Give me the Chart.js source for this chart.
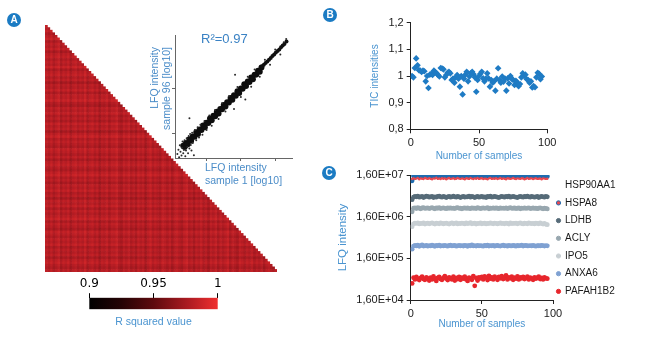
<!DOCTYPE html>
<html>
<head>
<meta charset="utf-8">
<title>Sample reproducibility</title>
<script src="https://cdn.jsdelivr.net/npm/chart.js@4.4.1/dist/chart.umd.min.js"></script>
<style>
  html, body { margin: 0; padding: 0; background: #fff; }
  #page { position: relative; width: 646px; height: 337px; overflow: hidden; font-family: 'Liberation Sans', Arial, sans-serif; }
  #page canvas { position: absolute; left: 0; top: 0; }
  .tag { position: absolute; width: 14px; height: 14px; border-radius: 50%; background: #1b7bc3; color: #fff;
         font: bold 10px 'Liberation Sans', Arial, sans-serif; text-align: center; line-height: 14px; }
  .note { position: absolute; color: #4a8cc8; white-space: nowrap; font-size: 10.5px; }
</style>
</head>
<body>
<div id="page">
  <canvas id="heat" width="646" height="337"></canvas>
  <canvas id="inset" width="646" height="337"></canvas>
  <canvas id="cbar" width="646" height="337"></canvas>
  <canvas id="tic" width="646" height="337"></canvas>
  <canvas id="lfq" width="646" height="337"></canvas>
  <div class="tag" style="left:7px;top:13px">A</div>
  <div class="tag" style="left:323px;top:8px">B</div>
  <div class="tag" style="left:322px;top:166px">C</div>
  <div class="note" style="left:201px;top:31px;font-size:13px;line-height:15px;color:#3a82c4">R²=0.97</div>
  <div class="note" style="left:205px;top:160.5px;line-height:13px">LFQ intensity<br>sample 1 [log10]</div>
  <div class="note" style="left:148px;top:130px;width:83px;line-height:12px;text-align:right;transform-origin:0 0;transform:rotate(-90deg)">LFQ intensity<br>sample 96 [log10]</div>
</div>
<script>
// ---- data ----------------------------------------------------------------

const SAMPLE_NO = [
   1,  2,  3,  4,  5,  6,  7,  8,  9, 10, 11, 12,
  13, 14, 15, 16, 17, 18, 19, 20, 21, 22, 23, 24,
  25, 26, 27, 28, 29, 30, 31, 32, 33, 34, 35, 36,
  37, 38, 39, 40, 41, 42, 43, 44, 45, 46, 47, 48,
  49, 50, 51, 52, 53, 54, 55, 56, 57, 58, 59, 60,
  61, 62, 63, 64, 65, 66, 67, 68, 69, 70, 71, 72,
  73, 74, 75, 76, 77, 78, 79, 80, 81, 82, 83, 84,
  85, 86, 87, 88, 89, 90, 91, 92, 93, 94, 95, 96
];

// panel A: R squared level per sample (heatmap texture), colour bar range
const R2_SAMPLE = [
  0.984, 0.978, 0.987, 0.974, 0.982, 0.990, 0.972, 0.984, 0.978, 0.987, 0.970, 0.982,
  0.987, 0.976, 0.984, 0.978, 0.990, 0.972, 0.982, 0.987, 0.976, 0.984, 0.968, 0.982,
  0.978, 0.987, 0.972, 0.984, 0.982, 0.990, 0.976, 0.970, 0.984, 0.978, 0.987, 0.974,
  0.982, 0.972, 0.987, 0.978, 0.984, 0.968, 0.982, 0.990, 0.976, 0.984, 0.978, 0.972,
  0.987, 0.982, 0.974, 0.984, 0.970, 0.982, 0.987, 0.978, 0.972, 0.984, 0.990, 0.976,
  0.982, 0.970, 0.984, 0.978, 0.987, 0.974, 0.982, 0.968, 0.984, 0.978, 0.987, 0.972,
  0.984, 0.976, 0.982, 0.990, 0.972, 0.984, 0.978, 0.970, 0.987, 0.982, 0.974, 0.984,
  0.978, 0.987, 0.972, 0.982, 0.976, 0.984, 0.970, 0.982, 0.987, 0.978, 0.972, 0.982
];
const R2_MIN = 0.9;
const R2_MAX = 1;
const CBAR_TICKS = [0.9, 0.95, 1];

// panel A inset: sample 1 vs sample 96, log10 LFQ intensity
const INSET_CORE = [
  [5.32, 5.44], [5.36, 5.40], [5.40, 5.52], [5.45, 5.48], [5.50, 5.63], [5.55, 5.58],
  [5.60, 5.71], [5.65, 5.70], [5.70, 5.83], [5.75, 5.78], [5.80, 5.91], [5.85, 5.90],
  [5.90, 6.03], [5.95, 5.98], [6.00, 6.11], [6.05, 6.10], [6.10, 6.23], [6.15, 6.18],
  [6.20, 6.31], [6.25, 6.30], [6.30, 6.43], [6.35, 6.38], [6.40, 6.51], [6.45, 6.50],
  [6.50, 6.63], [6.55, 6.58], [6.60, 6.71], [6.65, 6.70], [6.70, 6.83], [6.75, 6.78],
  [6.80, 6.91], [6.85, 6.90], [6.90, 7.03], [6.95, 6.98], [7.00, 7.11], [7.05, 7.10],
  [7.10, 7.23], [7.15, 7.18], [7.20, 7.31], [7.25, 7.30], [7.30, 7.43], [7.35, 7.38],
  [7.40, 7.51], [7.45, 7.52], [7.50, 7.63], [7.55, 7.60], [7.60, 7.72]
];
const INSET_UPPER = [
  [7.62, 7.76], [7.67, 7.80], [7.72, 7.85], [7.77, 7.90], [7.82, 7.95], [7.87, 8.00], [7.92, 8.06],
  [7.97, 8.10], [8.02, 8.16], [8.07, 8.20], [8.12, 8.25], [8.17, 8.31], [8.22, 8.36], [8.27, 8.41],
  [8.33, 8.48]
];
const INSET_SPREAD = [
  [5.15, 5.20], [5.18, 5.32], [5.20, 5.10], [5.22, 5.45], [5.24, 5.26], [5.27, 5.15], [5.28, 5.38],
  [5.30, 5.56], [5.32, 5.22], [5.34, 5.31], [5.36, 5.60], [5.38, 5.13], [5.40, 5.30], [5.42, 5.66],
  [5.44, 5.40], [5.46, 5.22], [5.48, 5.72], [5.50, 5.36], [5.52, 5.78], [5.54, 5.46], [5.56, 5.30],
  [5.58, 5.82], [5.60, 5.52], [5.63, 5.16], [5.50, 6.24], [5.66, 5.90], [5.70, 5.60], [5.74, 5.98],
  [5.78, 5.68], [5.82, 6.05], [5.88, 5.76], [5.94, 6.16], [6.00, 5.90], [6.08, 6.32], [6.15, 6.02],
  [6.25, 6.48], [6.35, 6.22], [6.45, 6.68], [6.55, 6.44], [6.65, 6.88], [6.80, 6.51], [6.83, 7.51],
  [6.90, 7.15], [7.00, 6.86], [7.13, 6.79], [7.20, 7.45], [7.30, 7.16], [7.40, 7.66], [7.55, 7.45],
  [7.70, 7.95], [7.85, 7.80], [8.00, 8.25], [8.15, 8.10], [8.25, 8.46], [8.32, 8.55]
];
const INSET_X_TICKS = [6, 7, 8];
const INSET_Y_TICKS = [5.8, 7.1];

// panel B: TIC intensities per sample
const TIC = [
  1.000, 0.995, 1.030, 1.066, 1.040, 1.022, 1.020, 1.015, 1.020, 1.018, 0.980, 1.000,
  0.955, 1.005, 1.008, 1.004, 1.020, 1.015, 1.010, 1.004, 0.998, 1.030, 1.028, 1.025,
  0.995, 1.004, 1.012, 1.016, 1.010, 0.985, 0.990, 0.975, 0.995, 1.004, 0.990, 0.960,
  1.000, 0.931, 0.990, 1.005, 1.016, 0.980, 0.998, 1.010, 1.016, 1.007, 0.995, 0.941,
  0.985, 1.000, 1.008, 1.016, 0.991, 0.980, 0.990, 1.010, 0.991, 0.960, 0.985, 0.975,
  0.980, 0.945, 0.990, 1.029, 0.985, 0.975, 0.998, 0.979, 0.990, 0.945, 0.991, 0.972,
  1.000, 0.990, 0.985, 0.966, 0.982, 0.975, 0.962, 0.970, 0.995, 1.010, 1.000, 1.005,
  0.988, 0.985, 0.975, 0.980, 0.957, 0.962, 0.958, 0.995, 1.012, 1.008, 0.988, 0.998
];
const TIC_TICKS = [0.8, 0.9, 1, 1.1, 1.2];
const SAMPLE_TICKS = [0, 50, 100];

// panel C: LFQ intensity per protein, in millions
const LFQ_UNIT = 1e6;
const PROTEINS = ['HSP90AA1', 'HSPA8', 'LDHB', 'ACLY', 'IPO5', 'ANXA6', 'PAFAH1B2'];
const HSP90AA1 = [
  11.6, 15.2, 14.6, 15.5, 15.0, 14.4, 15.8, 15.1, 14.7, 15.3, 16.0, 14.9,
  15.2, 14.5, 15.4, 15.7, 14.8, 15.0, 15.3, 14.6, 15.1, 15.6, 14.9, 15.2,
  14.4, 15.0, 15.5, 15.1, 14.7, 15.3, 15.9, 15.0, 14.6, 15.2, 15.4, 14.8,
  15.1, 15.6, 14.9, 15.3, 14.5, 15.0, 15.7, 15.2, 14.8, 15.1, 15.4, 14.7,
  15.0, 15.5, 15.2, 14.6, 15.3, 15.0, 14.9, 15.6, 15.1, 14.7, 15.2, 15.4,
  14.8, 15.0, 15.5, 15.1, 14.6, 15.3, 15.0, 14.9, 15.7, 15.2, 14.8, 15.1,
  15.4, 14.6, 15.0, 15.3, 15.6, 14.9, 15.2, 14.7, 15.0, 15.5, 15.1, 14.8,
  15.3, 15.0, 14.6, 15.2, 15.4, 14.9, 15.1, 15.6, 14.7, 15.0, 15.3, 14.8
];
const HSPA8 = [
  12.8, 13.4, 12.9, 13.1, 13.6, 12.7, 13.3, 13.0, 12.8, 13.5, 13.2, 12.9,
  13.4, 13.0, 12.6, 13.3, 13.1, 13.7, 12.9, 13.2, 12.8, 13.4, 13.0, 13.3,
  12.7, 13.2, 13.5, 12.9, 13.1, 13.4, 12.8, 13.0, 13.6, 13.1, 12.9, 13.3,
  13.0, 12.7, 13.4, 13.2, 12.9, 13.5, 13.1, 12.8, 13.3, 13.0, 13.6, 12.9,
  13.2, 13.4, 12.8, 13.1, 13.0, 12.7, 13.3, 13.5, 12.9, 13.2, 13.0, 13.4,
  12.8, 13.1, 13.6, 12.9, 13.3, 13.0, 12.7, 13.4, 13.2, 12.9, 13.1, 13.5,
  13.0, 12.8, 13.3, 13.1, 12.9, 13.4, 13.2, 12.7, 13.0, 13.5, 12.9, 13.2,
  13.3, 12.8, 13.1, 13.4, 12.9, 13.0, 13.2, 12.7, 13.3, 13.1, 12.9, 13.0
];
const LDHB = [
  4.1, 4.7, 4.9, 4.8, 5.0, 4.7, 4.8, 4.9, 4.6, 4.8, 5.0, 4.9,
  4.7, 4.8, 4.9, 4.6, 4.8, 4.7, 4.9, 5.0, 4.8, 4.7, 4.9, 4.8,
  4.6, 4.8, 4.9, 4.7, 4.8, 5.0, 4.8, 4.7, 4.9, 4.8, 4.6, 4.8,
  4.9, 4.7, 4.8, 4.8, 5.0, 4.7, 4.9, 4.8, 4.6, 4.8, 4.9, 4.7,
  4.8, 4.9, 4.7, 4.8, 4.6, 4.9, 4.8, 5.0, 4.7, 4.8, 4.9, 4.8,
  4.7, 4.6, 4.8, 4.9, 4.8, 4.7, 4.9, 4.8, 5.0, 4.7, 4.8, 4.9,
  4.8, 4.7, 4.6, 4.8, 4.9, 4.8, 4.7, 4.9, 4.8, 5.0, 4.8, 4.7,
  4.9, 4.8, 4.7, 4.8, 4.9, 4.6, 4.8, 4.9, 4.8, 4.7, 4.9, 4.8
];
const ACLY = [
  2.10, 2.55, 2.60, 2.50, 2.62, 2.55, 2.48, 2.58, 2.65, 2.52, 2.56, 2.60,
  2.50, 2.57, 2.62, 2.53, 2.48, 2.59, 2.55, 2.63, 2.51, 2.56, 2.60, 2.54,
  2.49, 2.58, 2.55, 2.61, 2.52, 2.57, 2.50, 2.59, 2.64, 2.53, 2.55, 2.48,
  2.56, 2.60, 2.52, 2.58, 2.54, 2.49, 2.61, 2.55, 2.57, 2.51, 2.63, 2.56,
  2.50, 2.55, 2.59, 2.53, 2.57, 2.62, 2.48, 2.56, 2.54, 2.60, 2.52, 2.58,
  2.55, 2.49, 2.61, 2.54, 2.57, 2.52, 2.59, 2.50, 2.56, 2.63, 2.53, 2.55,
  2.58, 2.51, 2.55, 2.60, 2.48, 2.56, 2.54, 2.59, 2.52, 2.57, 2.61, 2.50,
  2.54, 2.58, 2.52, 2.56, 2.49, 2.55, 2.60, 2.53, 2.47, 2.55, 2.51, 2.45
];
const IPO5 = [
  0.92, 1.08, 1.12, 1.10, 1.14, 1.07, 1.11, 1.09, 1.13, 1.06, 1.10, 1.12,
  1.08, 1.11, 1.14, 1.09, 1.06, 1.12, 1.10, 1.08, 1.13, 1.11, 1.07, 1.10,
  1.12, 1.09, 1.06, 1.11, 1.14, 1.08, 1.10, 1.13, 1.07, 1.11, 1.09, 1.12,
  1.10, 1.07, 1.13, 1.09, 1.11, 1.15, 1.08, 1.10, 1.12, 1.06, 1.11, 1.09,
  1.13, 1.08, 1.10, 1.12, 1.07, 1.11, 1.09, 1.14, 1.10, 1.08, 1.12, 1.11,
  1.07, 1.10, 1.13, 1.09, 1.11, 1.08, 1.12, 1.10, 1.06, 1.13, 1.09, 1.11,
  1.10, 1.12, 1.08, 1.11, 1.14, 1.09, 1.07, 1.12, 1.10, 1.08, 1.13, 1.10,
  1.09, 1.11, 1.07, 1.12, 1.10, 1.08, 1.13, 1.09, 1.06, 1.10, 1.05, 1.03
];
const ANXA6 = [
  0.265, 0.315, 0.325, 0.318, 0.330, 0.312, 0.322, 0.335, 0.316, 0.320, 0.328, 0.314,
  0.323, 0.317, 0.330, 0.321, 0.312, 0.326, 0.319, 0.333, 0.315, 0.322, 0.318, 0.327,
  0.320, 0.313, 0.325, 0.331, 0.317, 0.322, 0.328, 0.314, 0.320, 0.326, 0.318, 0.323,
  0.316, 0.329, 0.321, 0.312, 0.325, 0.319, 0.334, 0.317, 0.322, 0.315, 0.327, 0.320,
  0.324, 0.318, 0.313, 0.326, 0.321, 0.330, 0.316, 0.323, 0.319, 0.328, 0.314, 0.322,
  0.327, 0.320, 0.315, 0.323, 0.331, 0.318, 0.322, 0.313, 0.326, 0.320, 0.317, 0.329,
  0.321, 0.314, 0.325, 0.319, 0.323, 0.332, 0.316, 0.322, 0.327, 0.318, 0.320, 0.324,
  0.317, 0.326, 0.320, 0.313, 0.324, 0.321, 0.318, 0.328, 0.322, 0.315, 0.323, 0.319
];
const PAFAH1B2 = [
  0.040, 0.055, 0.050, 0.057, 0.052, 0.048, 0.054, 0.058, 0.051, 0.049, 0.056, 0.053,
  0.047, 0.055, 0.050, 0.059, 0.052, 0.046, 0.054, 0.057, 0.051, 0.049, 0.055, 0.060,
  0.052, 0.048, 0.056, 0.053, 0.050, 0.058, 0.047, 0.054, 0.051, 0.057, 0.049, 0.055,
  0.052, 0.058, 0.050, 0.046, 0.055, 0.053, 0.049, 0.060, 0.035, 0.054, 0.047, 0.056,
  0.053, 0.057, 0.050, 0.059, 0.055, 0.048, 0.061, 0.052, 0.056, 0.050, 0.058, 0.054,
  0.049, 0.057, 0.053, 0.060, 0.051, 0.055, 0.062, 0.050, 0.056, 0.053, 0.058, 0.049,
  0.055, 0.052, 0.059, 0.050, 0.056, 0.053, 0.057, 0.051, 0.054, 0.058, 0.050, 0.055,
  0.053, 0.049, 0.056, 0.052, 0.055, 0.058, 0.051, 0.054, 0.050, 0.056, 0.053, 0.052
];
const LFQ_SERIES = [HSP90AA1, HSPA8, LDHB, ACLY, IPO5, ANXA6, PAFAH1B2];
const LFQ_TICKS = [1.6e4, 1.6e5, 1.6e6, 1.6e7];

// ---- styling -------------------------------------------------------------

const TITLE_BLUE = '#4a94d0';
const AXIS_DARK = '#222222';
const CBAR_STOPS = [[0, '#000000'], [0.25, '#250305'], [0.5, '#5e0a0e'], [0.8, '#b51d24'], [1, '#f0302f']];
const PROTEIN_COLORS = ['#1e6cb0', '#e8474f', '#566b78', '#98a7af', '#c8cfd3', '#7fa1d2', '#e7262c'];
const PROTEIN_RADIUS = [2.4, 1.2, 2.4, 2.4, 2.4, 2.4, 2.4];
const LEGEND_FILL = ['rgba(0,0,0,0)', '#e8474f', '#566b78', '#98a7af', '#c8cfd3', '#7fa1d2', '#e7262c'];
const LEGEND_STROKE = ['rgba(0,0,0,0)', '#1e6cb0', '#566b78', '#98a7af', '#c8cfd3', '#7fa1d2', '#e7262c'];

Chart.defaults.responsive = false;
Chart.defaults.animation = false;
Chart.defaults.events = [];
Chart.defaults.font.family = "'Liberation Sans', Arial, sans-serif";
Chart.defaults.color = '#1a1a1a';
Chart.defaults.plugins.legend.display = false;
Chart.defaults.plugins.tooltip.enabled = false;

function hexRgb(h) {
    const n = parseInt(h.slice(1), 16);
    return [n >> 16, (n >> 8) & 255, n & 255];
}

// colour of an R squared value on the black -> red scale
function r2Color(v) {
    const t = Math.max(0, Math.min(1, (v - R2_MIN) / (R2_MAX - R2_MIN)));
    for (let k = 1; k < CBAR_STOPS.length; k++) {
        if (t <= CBAR_STOPS[k][0]) {
            const [t0, c0] = CBAR_STOPS[k - 1];
            const [t1, c1] = CBAR_STOPS[k];
            const f = (t - t0) / (t1 - t0);
            const a = hexRgb(c0), b = hexRgb(c1);
            return 'rgb(' + a.map((x, i) => Math.round(x + (b[i] - x) * f)).join(',') + ')';
        }
    }
    return CBAR_STOPS[CBAR_STOPS.length - 1][1];
}

// "1,60E+07" style labels
function fmtE(v) {
    const e = Math.floor(Math.log10(v) + 1e-9);
    const m = v / Math.pow(10, e);
    return m.toFixed(2).replace('.', ',') + 'E+' + String(e).padStart(2, '0');
}

function fixed(px) {
    return function (scale) {
        if (scale.isHorizontal()) scale.height = px; else scale.width = px;
    };
}

function ticksAt(values) {
    return function (scale) {
        scale.ticks = values.map(v => ({ value: v }));
    };
}

const pairs = list => list.map(([x, y]) => ({ x: x, y: y }));

// ---- A: correlation heatmap (lower triangle, one stacked segment per column) ----

const heatSets = SAMPLE_NO.map((col, j) => ({
    data: SAMPLE_NO.map((row, i) => (i >= j ? 1 : null)),
    backgroundColor: ctx => r2Color((R2_SAMPLE[ctx.dataIndex] + R2_SAMPLE[j]) / 2),
    borderWidth: 0,
    barPercentage: 1,
    categoryPercentage: 1
}));

new Chart(document.getElementById('heat'), {
    type: 'bar',
    data: { labels: SAMPLE_NO.map(String), datasets: heatSets },
    options: {
        indexAxis: 'y',
        layout: { padding: { left: 45, top: 25, right: 646 - 277, bottom: 337 - 272 } },
        scales: {
            x: { stacked: true, display: false, min: 0, max: SAMPLE_NO.length },
            y: { stacked: true, display: false }
        }
    }
});

// ---- A inset: sample 1 vs sample 96 ----

new Chart(document.getElementById('inset'), {
    type: 'scatter',
    data: {
        datasets: [
            { data: pairs(INSET_SPREAD), pointRadius: 1, backgroundColor: '#2a2a2a', borderWidth: 0 },
            { data: pairs(INSET_UPPER), pointRadius: 2, backgroundColor: '#111111', borderWidth: 0 },
            { data: pairs(INSET_CORE), pointRadius: 3, backgroundColor: '#0d0d0d', borderWidth: 0 }
        ]
    },
    options: {
        layout: { padding: { left: 175 - 4, top: 35, right: 646 - 292, bottom: 337 - 158 - 4 } },
        scales: {
            x: {
                min: 5.08, max: 8.49,
                afterBuildTicks: ticksAt(INSET_X_TICKS), afterFit: fixed(4),
                ticks: { display: false },
                grid: { drawOnChartArea: false, tickLength: 3, color: '#666' },
                border: { color: '#666' }
            },
            y: {
                min: 5.08, max: 8.67,
                afterBuildTicks: ticksAt(INSET_Y_TICKS), afterFit: fixed(4),
                ticks: { display: false },
                grid: { drawOnChartArea: false, tickLength: 3, color: '#666' },
                border: { color: '#666' }
            }
        }
    }
});

// ---- A: colour bar ----

new Chart(document.getElementById('cbar'), {
    type: 'bar',
    data: {
        labels: [''],
        datasets: [{
            data: [[R2_MIN, R2_MAX]],
            backgroundColor: ctx => {
                const a = ctx.chart.chartArea;
                if (!a) return '#000';
                const g = ctx.chart.ctx.createLinearGradient(a.left, 0, a.right, 0);
                CBAR_STOPS.forEach(([t, c]) => g.addColorStop(t, c));
                return g;
            },
            borderWidth: 0,
            barPercentage: 1,
            categoryPercentage: 1
        }]
    },
    options: {
        indexAxis: 'y',
        layout: { padding: { left: 89.3, top: 297.7 - 22, right: 646 - 217.7, bottom: 337 - 309.3 - 20 } },
        scales: {
            x: {
                position: 'top', min: R2_MIN, max: R2_MAX,
                afterBuildTicks: ticksAt(CBAR_TICKS), afterFit: fixed(22),
                ticks: { callback: v => String(v), font: { family: "'DejaVu Sans', sans-serif", size: 12 }, color: '#000', padding: 2, maxRotation: 0 },
                grid: { drawOnChartArea: false, tickLength: 4.5, color: '#000' },
                border: { display: false }
            },
            x2: {
                type: 'linear', axis: 'x', position: 'bottom', min: R2_MIN, max: R2_MAX,
                afterFit: fixed(20),
                ticks: { display: false },
                grid: { display: false },
                border: { display: false },
                title: { display: true, text: 'R squared value', color: TITLE_BLUE, font: { size: 10.5 }, padding: { top: 0, bottom: 1 } }
            },
            y: { display: false }
        }
    }
});

// ---- B: TIC intensities ----

new Chart(document.getElementById('tic'), {
    type: 'scatter',
    data: {
        datasets: [{
            data: SAMPLE_NO.map((x, i) => ({ x: x, y: TIC[i] })),
            pointStyle: 'rectRot',
            pointRadius: 3.3,
            backgroundColor: '#1f7bc4',
            borderWidth: 0
        }]
    },
    options: {
        layout: { padding: { left: 320, top: 22.7, right: 646 - 547.3, bottom: 337 - 129.3 - 40.7 } },
        scales: {
            x: {
                min: 0, max: 100,
                afterBuildTicks: ticksAt(SAMPLE_TICKS), afterFit: fixed(40.7),
                ticks: { font: { size: 11 }, padding: 3, maxRotation: 0 },
                grid: { drawOnChartArea: false, tickLength: 4, color: AXIS_DARK },
                border: { color: AXIS_DARK },
                title: { display: true, text: 'Number of samples', color: TITLE_BLUE, font: { size: 10 }, padding: { top: 0, bottom: 8 } }
            },
            y: {
                min: 0.8, max: 1.2,
                afterBuildTicks: ticksAt(TIC_TICKS), afterFit: fixed(90.7),
                ticks: { callback: v => String(v).replace('.', ','), font: { size: 11 }, padding: 3 },
                grid: { drawOnChartArea: false, tickLength: 4, color: AXIS_DARK },
                border: { color: AXIS_DARK },
                title: { display: true, text: 'TIC intensities', color: TITLE_BLUE, font: { size: 10 }, padding: { top: 49, bottom: 0 } }
            }
        }
    }
});

// ---- C: LFQ intensity of selected proteins ----

// park the legend at the spot it has in the figure (and widen its clip box)
const placeLegend = {
    id: 'placeLegend',
    afterLayout(chart) {
        const lg = chart.legend;
        const h = lg.height;
        lg.left = 549.3; lg.top = 172.5;
        lg.right = 646; lg.bottom = lg.top + h;
        lg.width = lg.right - lg.left;
    }
};

new Chart(document.getElementById('lfq'), {
    type: 'scatter',
    data: {
        datasets: PROTEINS.map((name, k) => ({
            label: name,
            data: LFQ_SERIES[k].map((v, i) => ({ x: SAMPLE_NO[i], y: v * LFQ_UNIT })),
            pointRadius: PROTEIN_RADIUS[k],
            backgroundColor: PROTEIN_COLORS[k],
            borderWidth: 0,
            order: name === 'HSPA8' ? 0 : 1
        }))
    },
    options: {
        layout: { padding: { left: 320, top: 175, right: 43, bottom: 2 } },
        plugins: {
            legend: {
                display: true,
                position: 'right',
                maxWidth: 50,
                align: 'start',
                labels: {
                    usePointStyle: true,
                    boxWidth: 3,
                    boxHeight: 3,
                    padding: 7.7,
                    color: '#1a1a1a',
                    font: { size: 10 },
                    generateLabels(chart) {
                        const items = Chart.defaults.plugins.legend.labels.generateLabels(chart);
                        items.sort((a, b) => a.datasetIndex - b.datasetIndex);
                        return items.map(it => {
                            it.pointStyle = 'circle';
                            it.fillStyle = LEGEND_FILL[it.datasetIndex];
                            it.strokeStyle = LEGEND_STROKE[it.datasetIndex];
                            it.lineWidth = 1;
                            return it;
                        });
                    }
                }
            }
        },
        scales: {
            x: {
                min: 0, max: 100,
                afterBuildTicks: ticksAt(SAMPLE_TICKS), afterFit: fixed(35),
                ticks: { font: { size: 11 }, padding: 3, maxRotation: 0 },
                grid: { drawOnChartArea: false, tickLength: 4, color: AXIS_DARK },
                border: { color: AXIS_DARK },
                title: { display: true, text: 'Number of samples', color: TITLE_BLUE, font: { size: 10 }, padding: { top: 0, bottom: 5 } }
            },
            y: {
                type: 'logarithmic',
                min: LFQ_TICKS[0], max: LFQ_TICKS[LFQ_TICKS.length - 1],
                afterBuildTicks: ticksAt(LFQ_TICKS), afterFit: fixed(90.7),
                ticks: { callback: v => fmtE(v), font: { size: 11 }, padding: 3 },
                grid: { drawOnChartArea: false, tickLength: 4, color: AXIS_DARK },
                border: { color: AXIS_DARK },
                title: { display: true, text: 'LFQ intensity', color: TITLE_BLUE, font: { size: 11.5 }, padding: { top: 16, bottom: 0 } }
            }
        }
    },
    plugins: [placeLegend]
});
</script>
</body>
</html>
